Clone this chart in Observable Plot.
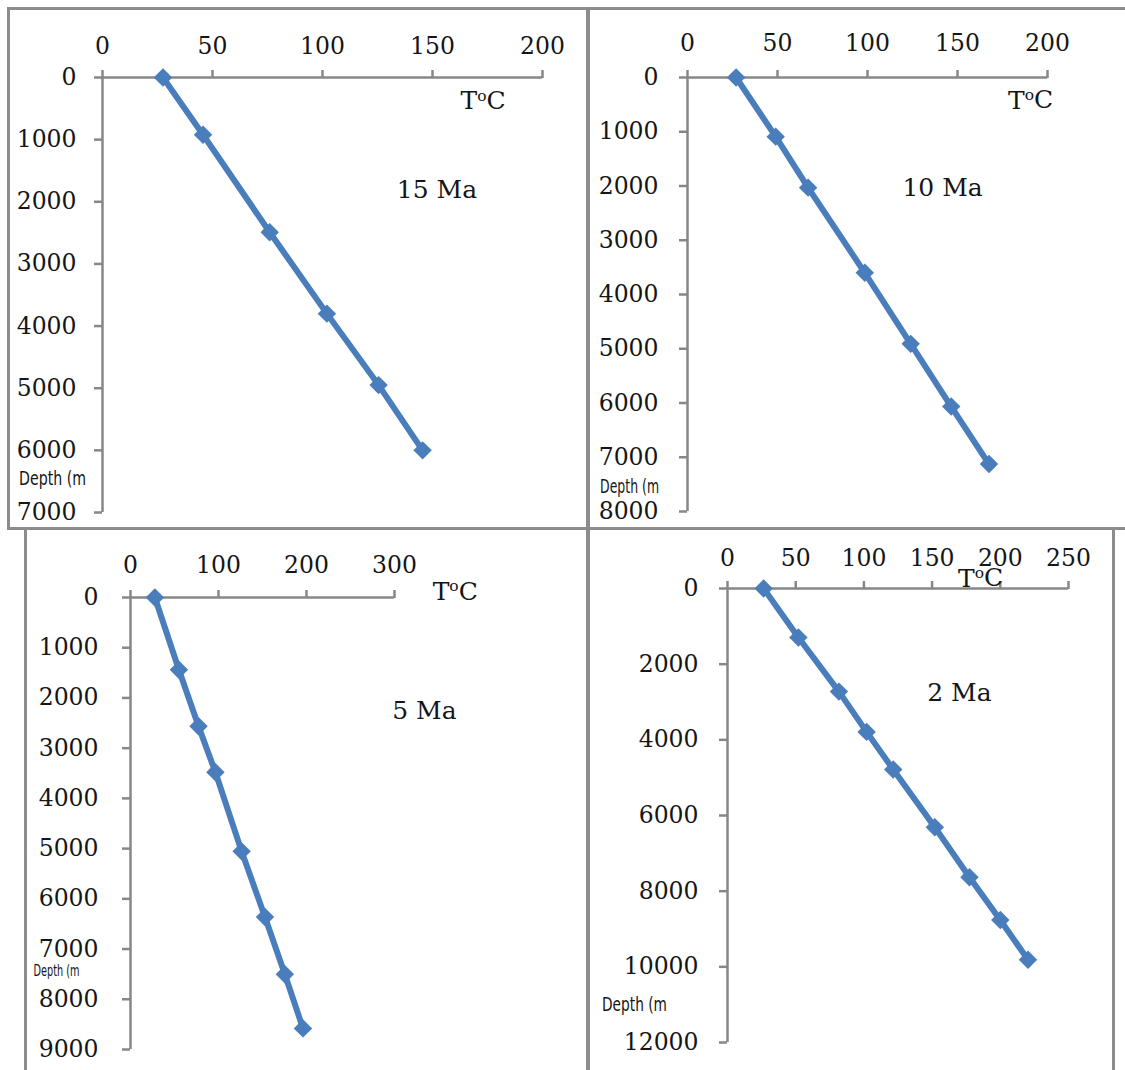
<!DOCTYPE html>
<html>
<head>
<meta charset="utf-8">
<script src="https://cdn.jsdelivr.net/npm/d3@7"></script>
<script src="https://cdn.jsdelivr.net/npm/@observablehq/plot@0.6"></script>
<style>
  body { margin: 0; background: #fff; }
  #page { position: relative; width: 1125px; height: 1070px; overflow: hidden; background: #fff; }
  .box { position: absolute; border: 3px solid #8c8c8c; box-sizing: border-box; }
  .chart { position: absolute; }
  .chart svg { overflow: visible; background: transparent; }
</style>
</head>
<body>
<div id="page"></div>
<script>
// ---------------- data ----------------
const titles = ["15 Ma", "10 Ma", "5 Ma", "2 Ma"];

const temp15  = [27.5, 45.7, 76, 102, 125.5, 145.5];
const depth15 = [0, 920, 2490, 3800, 4950, 6000];

const temp10  = [27, 49, 67, 98.5, 124, 146.5, 167.5];
const depth10 = [0, 1090, 2030, 3600, 4910, 6065, 7125];

const temp5   = [27.7, 55, 77.3, 96.5, 126.3, 152.8, 175.4, 196];
const depth5  = [0, 1440, 2565, 3480, 5055, 6360, 7500, 8580];

const temp2   = [26.5, 52, 81.7, 102, 121.5, 152, 177.4, 200, 220.3];
const depth2  = [0, 1295, 2725, 3790, 4785, 6310, 7630, 8760, 9815];

const xTicks15 = [0, 50, 100, 150, 200];
const yTicks15 = [0, 1000, 2000, 3000, 4000, 5000, 6000, 7000];
const xTicks10 = [0, 50, 100, 150, 200];
const yTicks10 = [0, 1000, 2000, 3000, 4000, 5000, 6000, 7000, 8000];
const xTicks5  = [0, 100, 200, 300];
const yTicks5  = [0, 1000, 2000, 3000, 4000, 5000, 6000, 7000, 8000, 9000];
const xTicks2  = [0, 50, 100, 150, 200, 250];
const yTicks2  = [0, 2000, 4000, 6000, 8000, 10000, 12000];

const xAxisTitle = "ToC";        // rendered as T, superscript o, C
const yAxisTitle = "Depth (m";

// annotation anchors in data units [temperature, depth]
const titlePos15 = [152, 1818];
const titlePos10 = [141.7, 2028];
const titlePos5  = [334, 2250];
const titlePos2  = [170, 2775];
const xLabPos15 = [173, 386];
const xLabPos10 = [190.6, 424];
const xLabPos5  = [369, -119];
const xLabPos2  = [185.5, -264];
const yLabPos15 = [-22.7, 6453];
const yLabPos10 = [-32.2, 7539];
const yLabPos5  = [-84, 7447];
const yLabPos2  = [-68.2, 11000];

// ---------------- layout & style ----------------
const BLUE = "#4a7dbb";
const GRAY = "#878787";
const INK = "#151515";
const SERIF = "'DejaVu Serif', 'Liberation Serif', serif";
const SANS = "'DejaVu Sans Condensed', 'DejaVu Sans', 'Liberation Sans', sans-serif";

const page = document.getElementById("page");

// panel frames
[
  {l: 7,   t: 7,   w: 582, h: 523},
  {l: 587, t: 7,   w: 545, h: 523},
  {l: 24,  t: 527, w: 565, h: 560},
  {l: 587, t: 527, w: 528, h: 560}
].forEach(b => {
  const d = document.createElement("div");
  d.className = "box";
  Object.assign(d.style, {left: b.l + "px", top: b.t + "px", width: b.w + "px", height: b.h + "px"});
  page.appendChild(d);
});

const panels = [
  {temp: temp15, depth: depth15, xt: xTicks15, yt: yTicks15, title: titles[0], tp: titlePos15, xp: xLabPos15, yp: yLabPos15,
   left: 10, top: 10, width: 570, height: 515, mL: 92, mR: 38, mT: 67, mB: 13, padX: 15.5, padY: 18, depthSize: 19, depthLen: 67},
  {temp: temp10, depth: depth10, xt: xTicks10, yt: yTicks10, title: titles[1], tp: titlePos10, xp: xLabPos10, yp: yLabPos10,
   left: 591, top: 10, width: 530, height: 515, mL: 96, mR: 74, mT: 67, mB: 14, padX: 18.5, padY: 21, depthSize: 19, depthLen: 59},
  {temp: temp5, depth: depth5, xt: xTicks5, yt: yTicks5, title: titles[2], tp: titlePos5, xp: xLabPos5, yp: yLabPos5,
   left: 28, top: 532, width: 557, height: 535, mL: 102, mR: 191, mT: 65, mB: 18, padX: 16.5, padY: 24, depthSize: 15, depthLen: 46},
  {temp: temp2, depth: depth2, xt: xTicks2, yt: yTicks2, title: titles[3], tp: titlePos2, xp: xLabPos2, yp: yLabPos2,
   left: 591, top: 532, width: 520, height: 535, mL: 136, mR: 43, mT: 56, mB: 25, padX: 14.5, padY: 21, depthSize: 19, depthLen: 65}
];

const NS = "http://www.w3.org/2000/svg";

panels.forEach(p => {
  const rows = d3.zip(p.temp, p.depth).map(([t, d]) => ({t, d}));
  const xMax = p.xt[p.xt.length - 1];
  const yMax = p.yt[p.yt.length - 1];
  const chart = Plot.plot({
    width: p.width,
    height: p.height,
    marginLeft: p.mL, marginRight: p.mR, marginTop: p.mT, marginBottom: p.mB,
    style: {fontFamily: SERIF, fontSize: "23.5px", color: INK, background: "transparent", overflow: "visible"},
    x: {domain: [0, xMax], axis: null},
    y: {domain: [0, yMax], reverse: true, axis: null},
    marks: [
      Plot.ruleY([0], {stroke: GRAY, strokeWidth: 2.5}),
      Plot.ruleX([0], {stroke: GRAY, strokeWidth: 2.5}),
      Plot.axisX({anchor: "top", ticks: p.xt, label: null, tickSize: 8, tickPadding: p.padX, tickFormat: d => String(d),
                  stroke: GRAY, strokeWidth: 2.5, fill: INK, fontSize: 23.5, fontFamily: SERIF}),
      Plot.axisY({anchor: "left", ticks: p.yt, label: null, tickSize: 8, tickPadding: p.padY, tickFormat: d => String(d),
                  stroke: GRAY, strokeWidth: 2.5, fill: INK, fontSize: 23.5, fontFamily: SERIF}),
      Plot.line(rows, {x: "t", y: "d", stroke: BLUE, strokeWidth: 6}),
      Plot.dot(rows, {x: "t", y: "d", symbol: "diamond2", r: 8.3, fill: BLUE, stroke: "none"}),
      Plot.text([{t: p.tp[0], d: p.tp[1], s: p.title}], {x: "t", y: "d", text: "s", fontSize: 25, fontFamily: SERIF, fill: INK}),
      Plot.text([{t: p.xp[0], d: p.xp[1], s: xAxisTitle}], {x: "t", y: "d", text: "s", fontSize: 25, fontFamily: SERIF, fill: INK}),
      Plot.text([{t: p.yp[0], d: p.yp[1], s: yAxisTitle}], {x: "t", y: "d", text: "s", fontSize: p.depthSize, fontFamily: SANS, fill: INK})
    ]
  });
  chart.querySelectorAll("text").forEach(el => {
    if (el.textContent === xAxisTitle) {
      // superscript "o" in T°C
      el.textContent = "";
      const a = document.createElementNS(NS, "tspan"); a.textContent = "T";
      const b = document.createElementNS(NS, "tspan"); b.textContent = "o";
      b.setAttribute("font-size", "0.62em"); b.setAttribute("dy", "-0.55em");
      const c = document.createElementNS(NS, "tspan"); c.textContent = "C";
      c.setAttribute("dy", "0.34em");
      el.append(a, b, c);
    } else if (el.textContent === yAxisTitle) {
      // condensed sans, as in the reference
      el.setAttribute("textLength", p.depthLen);
      el.setAttribute("lengthAdjust", "spacingAndGlyphs");
    }
  });
  const holder = document.createElement("div");
  holder.className = "chart";
  holder.style.left = p.left + "px";
  holder.style.top = p.top + "px";
  holder.appendChild(chart);
  page.appendChild(holder);
});
</script>
</body>
</html>
